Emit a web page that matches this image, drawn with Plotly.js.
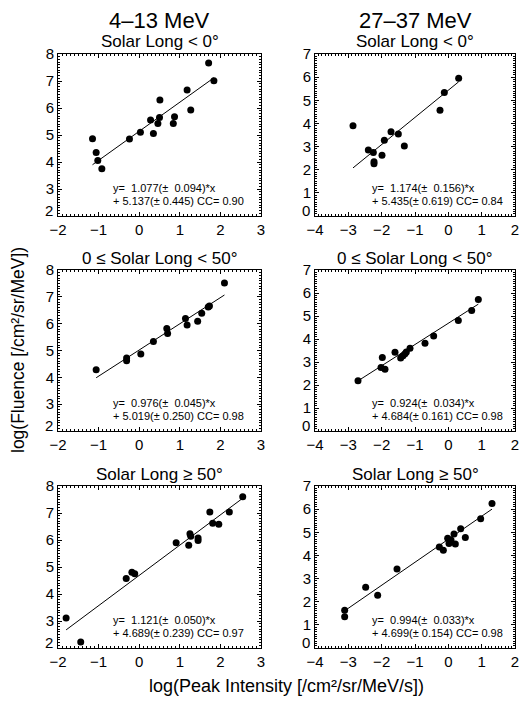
<!DOCTYPE html>
<html>
<head>
<meta charset="utf-8">
<script src="https://cdn.plot.ly/plotly-3.0.1.min.js"></script>
<style>html,body{margin:0;padding:0;background:#fff;}#chart{width:526px;height:701px;}</style>
</head>
<body>
<div id="chart"></div>
<script>
// ---- Data ----
const columnTitles = ["4\u201313 MeV", "27\u201337 MeV"];
const panelTitles = ["Solar Long < 0\u00b0", "Solar Long < 0\u00b0",
  "0 \u2264 Solar Long < 50\u00b0", "0 \u2264 Solar Long < 50\u00b0",
  "Solar Long \u2265 50\u00b0", "Solar Long \u2265 50\u00b0"];
const xTitle = "log(Peak Intensity [/cm\u00b2/sr/MeV/s])";
const yTitle = "log(Fluence [/cm\u00b2/sr/MeV])";

// panel 1: 4-13 MeV, Solar Long < 0
const x1 = [-1.15, -1.06, -1.02, -0.92, -0.24, 0.03, 0.28, 0.35, 0.46, 0.50, 0.51, 0.84, 0.87, 1.18, 1.27, 1.71, 1.84];
const y1 = [4.86, 4.35, 4.06, 3.75, 4.85, 5.10, 5.56, 5.06, 5.43, 5.65, 6.30, 5.43, 5.68, 6.67, 5.93, 7.67, 7.01];
// panel 2: 27-37 MeV, Solar Long < 0
const x2 = [-2.86, -2.40, -2.25, -2.23, -2.23, -1.99, -1.92, -1.72, -1.50, -1.32, -0.25, -0.12, 0.31];
const y2 = [3.90, 2.85, 2.74, 2.34, 2.26, 2.62, 3.27, 3.64, 3.54, 3.02, 4.57, 5.34, 5.95];
// panel 3: 4-13 MeV, 0 <= Solar Long < 50
const x3 = [-1.06, -0.31, -0.31, 0.04, 0.35, 0.68, 0.70, 1.14, 1.18, 1.44, 1.54, 1.70, 1.73, 2.10];
const y3 = [4.28, 4.72, 4.62, 4.87, 5.34, 5.82, 5.63, 6.19, 5.95, 6.09, 6.39, 6.62, 6.66, 7.52];
// panel 4: 27-37 MeV, 0 <= Solar Long < 50
const x4 = [-2.71, -2.02, -1.98, -1.90, -1.60, -1.43, -1.36, -1.30, -1.26, -1.15, -0.70, -0.44, 0.30, 0.70, 0.90];
const y4 = [2.18, 2.76, 3.20, 2.68, 3.42, 3.17, 3.27, 3.36, 3.43, 3.60, 3.82, 4.13, 4.80, 5.24, 5.72];
// panel 5: 4-13 MeV, Solar Long >= 50
const x5 = [-1.80, -1.44, -0.32, -0.18, -0.11, 0.91, 1.22, 1.25, 1.27, 1.45, 1.45, 1.74, 1.81, 1.96, 2.22, 2.55];
const y5 = [3.11, 2.22, 4.57, 4.81, 4.75, 5.90, 5.81, 6.23, 6.14, 6.07, 5.98, 7.04, 6.62, 6.58, 7.04, 7.60];
// panel 6: 27-37 MeV, Solar Long >= 50
const x6 = [-3.11, -3.11, -2.48, -2.12, -1.54, -0.27, -0.15, -0.02, 0.02, 0.08, 0.17, 0.21, 0.37, 0.51, 0.97, 1.31];
const y6 = [1.63, 1.35, 2.63, 2.28, 3.41, 4.36, 4.22, 4.74, 4.52, 4.67, 4.93, 4.49, 5.15, 4.78, 5.58, 6.24];

// linear fit results printed in each panel
const slopes = [1.077, 1.174, 0.976, 0.924, 1.121, 0.994];
const slopeErrs = [0.094, 0.156, 0.045, 0.034, 0.050, 0.033];
const intercepts = [5.137, 5.435, 5.019, 4.684, 4.689, 4.699];
const interceptErrs = [0.445, 0.619, 0.250, 0.161, 0.239, 0.154];
const ccs = [0.90, 0.84, 0.98, 0.98, 0.97, 0.98];

// axis ranges and tick labels per column
const xRanges = [[-2, 3], [-4, 2]];
const yRanges = [[2, 8], [0, 7]];
const yTickVals = [[2, 3, 4, 5, 6, 7, 8], [0, 1, 2, 3, 4, 5, 6, 7]];

// ---- Layout ----
const W = 526, H = 701;
const FONT = 'Liberation Sans, Arial, sans-serif';
const px = v => v / W;
const py = v => 1 - v / H;
const colPx = [[58, 261], [315, 515]];
const rowPx = [[54, 216], [270, 431], [486, 648]];

const xs = [x1, x2, x3, x4, x5, x6];
const ys = [y1, y2, y3, y4, y5, y6];

const traces = [];
const layout = {
  width: W, height: H,
  margin: {l: 0, r: 0, t: 0, b: 0},
  paper_bgcolor: '#fff', plot_bgcolor: '#fff',
  showlegend: false,
  font: {family: FONT, color: '#000'},
  annotations: []
};

function baseAxis(domain, range, anchor) {
  return {
    domain: domain, range: range, anchor: anchor,
    ticks: 'inside', ticklen: 4, tickwidth: 1, tickcolor: '#000',
    showline: true, linecolor: '#000', linewidth: 1, mirror: 'allticks',
    showgrid: false, zeroline: false,
    tickfont: {size: 15, color: '#000', family: FONT},
    minor: {tickmode: 'linear', tick0: 0, dtick: 0.1, ticks: 'inside', ticklen: 2, tickwidth: 1, tickcolor: '#000', showgrid: false},
    fixedrange: true
  };
}

for (let i = 0; i < 6; i++) {
  const c = i % 2, r = Math.floor(i / 2);
  const n = i + 1;
  const sfx = n === 1 ? '' : String(n);
  const xa = 'x' + sfx, ya = 'y' + sfx;
  const xAx = baseAxis([px(colPx[c][0]), px(colPx[c][1])], xRanges[c], ya);
  xAx.tick0 = 0; xAx.dtick = 1;
  const yAx = baseAxis([py(rowPx[r][1]), py(rowPx[r][0])], yRanges[c], xa);
  yAx.tickmode = 'array';
  yAx.tickvals = yTickVals[c];
  // lowest label is drawn separately, raised above the corner as in the reference
  yAx.ticktext = yTickVals[c].map((v, k) => k === 0 ? '' : String(v));
  layout['xaxis' + sfx] = xAx;
  layout['yaxis' + sfx] = yAx;

  layout.annotations.push({
    xref: 'paper', yref: ya, x: px(colPx[c][0] - 4), y: yTickVals[c][0],
    xanchor: 'right', yanchor: 'bottom', yshift: -4, borderpad: 0, showarrow: false,
    text: String(yTickVals[c][0]), font: {size: 15, color: '#000'}
  });

  const xmin = Math.min(...xs[i]), xmax = Math.max(...xs[i]);
  traces.push({
    type: 'scatter', mode: 'lines', xaxis: xa, yaxis: ya,
    x: [xmin, xmax], y: [slopes[i] * xmin + intercepts[i], slopes[i] * xmax + intercepts[i]],
    line: {color: '#000', width: 1}, hoverinfo: 'skip'
  });
  traces.push({
    type: 'scatter', mode: 'markers', xaxis: xa, yaxis: ya,
    x: xs[i], y: ys[i],
    marker: {color: '#000', size: 7}
  });

  // panel title
  layout.annotations.push({
    xref: 'paper', yref: 'paper',
    x: px((colPx[c][0] + colPx[c][1]) / 2), y: py(rowPx[r][0] - 12),
    xanchor: 'center', yanchor: 'middle', showarrow: false,
    text: panelTitles[i], font: {size: 17, color: '#000'}
  });
  // fit text
  const tx = c === 0 ? 111 : 370;
  layout.annotations.push({
    xref: 'paper', yref: 'paper', x: px(tx), y: py(rowPx[r][1] - 28),
    xanchor: 'left', yanchor: 'middle', showarrow: false,
    text: 'y=\u00a0 ' + slopes[i].toFixed(3) + '(\u00b1\u00a0 ' + slopeErrs[i].toFixed(3) + ')*x',
    font: {size: 11, color: '#000'}
  });
  layout.annotations.push({
    xref: 'paper', yref: 'paper', x: px(tx), y: py(rowPx[r][1] - 15),
    xanchor: 'left', yanchor: 'middle', showarrow: false,
    text: '+ ' + intercepts[i].toFixed(3) + '(\u00b1 ' + interceptErrs[i].toFixed(3) + ') CC= ' + ccs[i].toFixed(2),
    font: {size: 11, color: '#000'}
  });
}

// column titles
for (let c = 0; c < 2; c++) {
  layout.annotations.push({
    xref: 'paper', yref: 'paper',
    x: px((colPx[c][0] + colPx[c][1]) / 2), y: py(20),
    xanchor: 'center', yanchor: 'middle', showarrow: false,
    text: columnTitles[c], font: {size: 22, color: '#000'}
  });
}
// axis titles
layout.annotations.push({
  xref: 'paper', yref: 'paper', x: px(286), y: py(686),
  xanchor: 'center', yanchor: 'middle', showarrow: false,
  text: xTitle, font: {size: 18, color: '#000'}
});
layout.annotations.push({
  xref: 'paper', yref: 'paper', x: px(18), y: py(350),
  xanchor: 'center', yanchor: 'middle', showarrow: false, textangle: -90,
  text: yTitle, font: {size: 17.5, color: '#000'}
});

Plotly.newPlot('chart', traces, layout, {displayModeBar: false, staticPlot: true});
</script>
</body>
</html>
